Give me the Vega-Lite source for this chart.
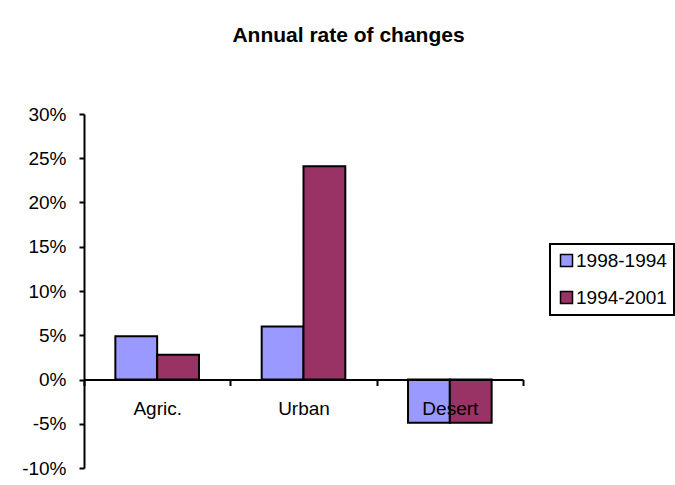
{
  "$schema": "https://vega.github.io/schema/vega-lite/v6.json",
  "autosize": {"type": "none"},
  "padding": {"left": 84, "top": 114, "right": 152, "bottom": 17},
  "width": 439,
  "height": 354,
  "background": "white",
  "title": {
    "text": "Annual rate of changes",
    "font": "Liberation Sans",
    "fontSize": 21,
    "fontWeight": "bold",
    "color": "black",
    "anchor": "middle",
    "frame": "group",
    "dx": 45,
    "offset": 59
  },
  "data": {
    "values": [
      {"category": "Agric.", "period": "1998-1994", "rate": 0.049},
      {"category": "Agric.", "period": "1994-2001", "rate": 0.028},
      {"category": "Urban", "period": "1998-1994", "rate": 0.06},
      {"category": "Urban", "period": "1994-2001", "rate": 0.241},
      {"category": "Desert", "period": "1998-1994", "rate": -0.049},
      {"category": "Desert", "period": "1994-2001", "rate": -0.049}
    ]
  },
  "mark": {"type": "bar", "stroke": "black", "strokeWidth": 2},
  "encoding": {
    "x": {
      "field": "category",
      "type": "nominal",
      "sort": null,
      "title": null,
      "scale": {"paddingInner": 0, "paddingOuter": 0},
      "axis": {
        "orient": "bottom",
        "offset": -88.5,
        "zindex": 1,
        "labelAngle": 0,
        "labelFont": "Liberation Sans",
        "labelFontSize": 19,
        "labelColor": "black",
        "labelPadding": 14,
        "domainColor": "black",
        "domainWidth": 2,
        "tickColor": "black",
        "tickWidth": 2,
        "tickSize": 6,
        "tickBand": "extent"
      }
    },
    "xOffset": {
      "field": "period",
      "type": "nominal",
      "sort": ["1998-1994", "1994-2001"],
      "scale": {"paddingInner": 0, "paddingOuter": 0.75}
    },
    "y": {
      "field": "rate",
      "type": "quantitative",
      "title": null,
      "scale": {"domain": [-0.1, 0.3], "nice": false, "zero": false},
      "axis": {
        "values": [-0.1, -0.05, 0, 0.05, 0.1, 0.15, 0.2, 0.25, 0.3],
        "labelExpr": "(datum.value < 0 ? '-' : '') + format(abs(datum.value), '.0%')",
        "grid": false,
        "labelFont": "Liberation Sans",
        "labelFontSize": 19,
        "labelColor": "black",
        "labelPadding": 13,
        "domainColor": "black",
        "domainWidth": 2,
        "tickColor": "black",
        "tickWidth": 2,
        "tickSize": 5
      }
    },
    "color": {
      "field": "period",
      "type": "nominal",
      "sort": ["1998-1994", "1994-2001"],
      "scale": {"domain": ["1998-1994", "1994-2001"], "range": ["#9999FF", "#993366"]},
      "legend": {
        "title": null,
        "orient": "none",
        "legendX": 466,
        "legendY": 130,
        "strokeColor": "black",
        "padding": 7,
        "symbolType": "square",
        "symbolSize": 144,
        "symbolStrokeColor": "black",
        "symbolStrokeWidth": 1.5,
        "symbolOpacity": 1,
        "labelFont": "Liberation Sans",
        "labelFontSize": 19,
        "labelColor": "black",
        "labelOffset": 0,
        "rowPadding": 17,
        "encode": {"legend": {"update": {"strokeWidth": {"value": 2}}}}
      }
    }
  },
  "config": {
    "view": {"stroke": null}
  }
}
